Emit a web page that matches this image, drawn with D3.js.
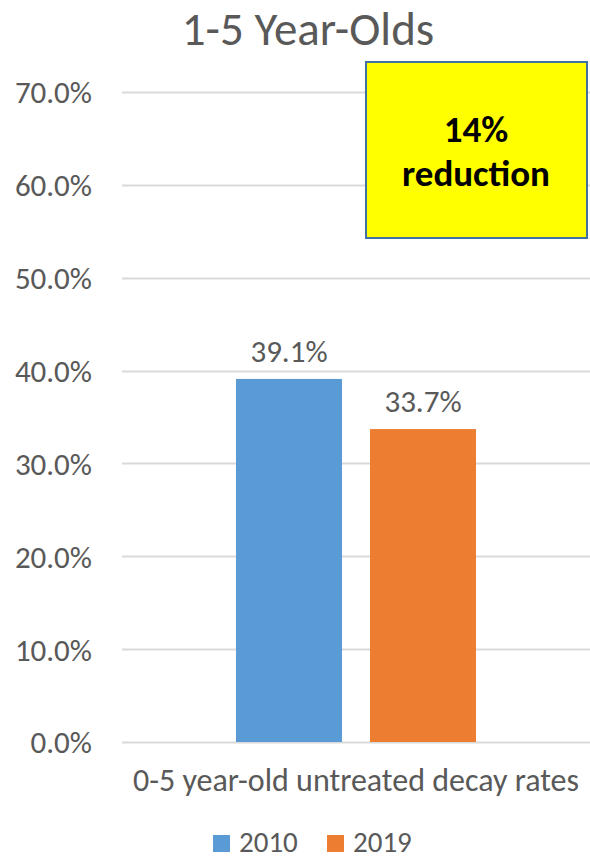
<!DOCTYPE html>
<html>
<head>
<meta charset="utf-8">
<script src="https://d3js.org/d3.v7.min.js"></script>
<style>
  body { margin: 0; background: #fff; }
  text { font-family: Carlito, Calibri, "Liberation Sans", sans-serif; fill: #595959; }
</style>
</head>
<body>
<div id="chart"></div>
<script>
var width = 590, height = 859;
var margin = {top: 92, right: 0, bottom: 117, left: 122};

var categories = ["0-5 year-old untreated decay rates"];
var series = ["2010", "2019"];
var values = [0.391, 0.337];
var colors = ["#5B9BD5", "#ED7D31"];
var yTicks = [0, 0.1, 0.2, 0.3, 0.4, 0.5, 0.6, 0.7];

var svg = d3.select("#chart").append("svg")
  .attr("width", width)
  .attr("height", height);

var y = d3.scaleLinear().domain([0, 0.7]).range([height - margin.bottom, margin.top]);
var x0 = d3.scaleBand().domain(categories).range([margin.left, width - margin.right]).paddingOuter(0.475);
var x1 = d3.scaleBand().domain(series).range([0, x0.bandwidth()]).paddingInner(0.209);

// title
svg.append("text")
  .attr("x", 308)
  .attr("y", 45)
  .attr("text-anchor", "middle")
  .style("font-size", "47px")
  .text("1-5 Year-Olds");

// gridlines
svg.append("g").selectAll("line")
  .data(yTicks)
  .enter().append("line")
  .attr("x1", margin.left)
  .attr("x2", width - margin.right)
  .attr("y1", function (d) { return Math.round(y(d)) + 0.5; })
  .attr("y2", function (d) { return Math.round(y(d)) + 0.5; })
  .style("stroke", "#D9D9D9")
  .style("stroke-width", 2);

// y axis labels
var yAxis = d3.axisLeft(y).tickValues(yTicks).tickFormat(d3.format(".1%")).tickSize(0).tickPadding(0);
var gy = svg.append("g")
  .attr("transform", "translate(92,0)")
  .call(yAxis);
gy.select(".domain").remove();
gy.selectAll("text")
  .attr("dy", "0.35em")
  .style("font-size", "31px")
  .style("font-family", null)
  .attr("fill", "#595959");

// bars
var gBars = svg.append("g")
  .attr("transform", "translate(" + x0(categories[0]) + ",0)");

gBars.selectAll("rect")
  .data(values)
  .enter().append("rect")
  .attr("x", function (d, i) { return x1(series[i]); })
  .attr("y", function (d) { return y(d); })
  .attr("width", x1.bandwidth())
  .attr("height", function (d) { return y(0) - y(d); })
  .style("fill", function (d, i) { return colors[i]; });

gBars.selectAll("text.lbl")
  .data(values)
  .enter().append("text")
  .attr("class", "lbl")
  .attr("x", function (d, i) { return x1(series[i]) + x1.bandwidth() / 2; })
  .attr("y", function (d) { return y(d) - 17; })
  .attr("text-anchor", "middle")
  .style("font-size", "31px")
  .text(function (d) { return d3.format(".1%")(d); });

// category label
svg.append("text")
  .attr("x", x0(categories[0]) + x0.bandwidth() / 2)
  .attr("y", 791)
  .attr("text-anchor", "middle")
  .style("font-size", "32px")
  .text(categories[0]);

// annotation box
svg.append("rect")
  .attr("x", 366)
  .attr("y", 62)
  .attr("width", 221)
  .attr("height", 176)
  .style("fill", "#FFFF00")
  .style("stroke", "#41719C")
  .style("stroke-width", 2);

svg.append("text")
  .attr("x", 476)
  .attr("y", 142)
  .attr("text-anchor", "middle")
  .style("font-size", "37px")
  .style("font-weight", "bold")
  .style("fill", "#000")
  .text("14%");

svg.append("text")
  .attr("x", 476)
  .attr("y", 186)
  .attr("text-anchor", "middle")
  .style("font-size", "37px")
  .style("font-weight", "bold")
  .style("fill", "#000")
  .text("reduction");

// legend
var legendX = [213, 327];
var legend = svg.append("g").selectAll("g")
  .data(series)
  .enter().append("g")
  .attr("transform", function (d, i) { return "translate(" + legendX[i] + ",835)"; });

legend.append("rect")
  .attr("width", 17)
  .attr("height", 17)
  .style("fill", function (d, i) { return colors[i]; });

legend.append("text")
  .attr("x", 26)
  .attr("y", 17)
  .style("font-size", "29px")
  .text(function (d) { return d; });
</script>
</body>
</html>
